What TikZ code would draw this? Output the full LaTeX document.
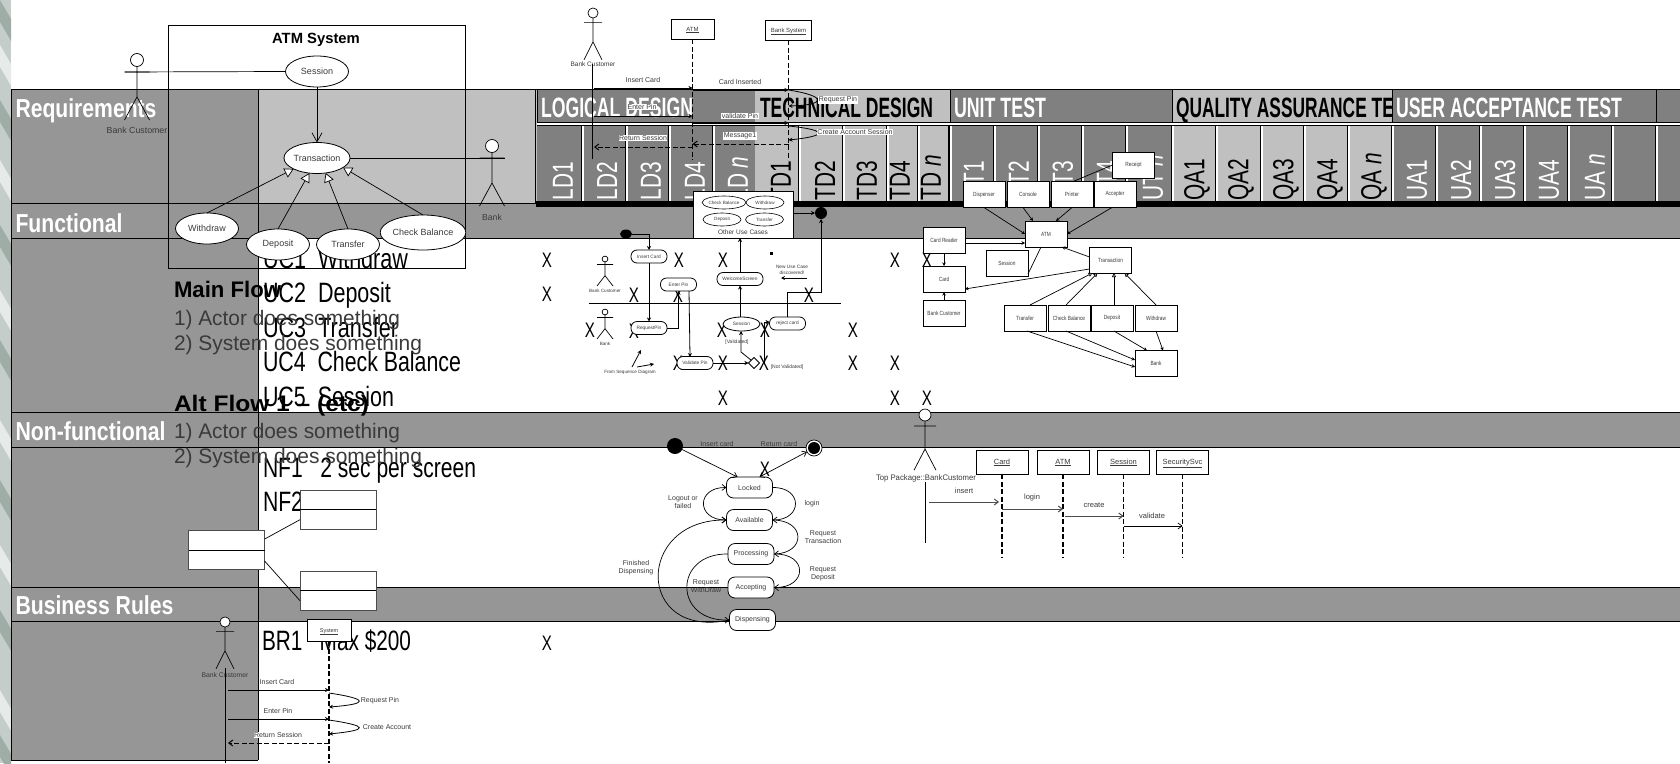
\documentclass[tikz,border=0pt]{standalone}
\usepackage{fontspec}
\usepackage{graphicx}
\setmainfont{Liberation Sans}
\newfontfamily\nar[FakeStretch=0.72]{Liberation Sans}
\newfontfamily\narb[FakeStretch=0.8]{Liberation Sans}
\usetikzlibrary{arrows.meta,shapes.geometric}
\definecolor{bandgrey}{HTML}{969696}
\definecolor{darkgrey}{HTML}{808080}
\definecolor{lightgrey}{HTML}{C0C0C0}
\definecolor{txtgrey}{HTML}{3A3A3A}
\definecolor{stripbase}{HTML}{C4CDC9}
\definecolor{stripdark}{HTML}{9FADA7}
\definecolor{striplight}{HTML}{E6EAE8}
\newcommand{\fitw}[2]{\resizebox{#1}{\height}{#2}}
\tikzset{
 x=1pt,y=-1pt,
 every node/.style={inner sep=0pt,outer sep=0pt,font=\fontsize{7}{8}\selectfont,text=txtgrey},
 ln/.style={draw=black,line width=0.7pt},
 hdr/.style={anchor=base west,text=white,font=\bfseries\fontsize{26}{26}\selectfont},
 big/.style={anchor=base west,text=black,font=\fontsize{28}{28}\selectfont},
 flow/.style={anchor=base west,text=txtgrey,font=\fontsize{21}{21}\selectfont},
 flowb/.style={anchor=base west,text=black,font=\bfseries\fontsize{22.5}{22.5}\selectfont},
 cross/.style={anchor=center,text=black,font=\nar\fontsize{21}{21}\selectfont},
 vt/.style={rotate=90,anchor=west,font=\nar\fontsize{29}{29}\selectfont},
 phase/.style={anchor=base west,font=\bfseries\fontsize{28}{28}\selectfont},
 uc/.style={ellipse,draw=black,fill=white,line width=0.8pt,minimum width=63pt,minimum height=31pt,font=\fontsize{9}{10}\selectfont},
 ucs/.style={ellipse,draw=black,fill=white,line width=0.6pt,minimum width=40pt,minimum height=13pt,font=\fontsize{4.6}{5}\selectfont},
 act/.style={rounded corners=6pt,draw=black,fill=white,line width=0.8pt,minimum width=36pt,minimum height=13pt,font=\fontsize{4.8}{5}\selectfont},
 st/.style={rounded corners=7pt,draw=black,fill=white,line width=0.8pt,minimum width=46pt,minimum height=21pt,font=\fontsize{7}{8}\selectfont},
 cls/.style={draw=black,fill=white,line width=0.9pt,minimum width=42pt,minimum height=26pt,font=\narb\fontsize{6}{7}\selectfont},
 obj/.style={draw=black,fill=white,line width=0.9pt,text height=5.5pt,text depth=1.5pt},
 lbl/.style={font=\fontsize{7}{8}\selectfont},
 sml/.style={font=\fontsize{7}{8}\selectfont},
 tiny/.style={font=\fontsize{4.6}{5}\selectfont},
 wlbl/.style={fill=white,inner sep=0.5pt,font=\fontsize{7}{8}\selectfont},
 ar/.style={draw=black,line width=0.7pt,-{Straight Barb[length=4pt,width=6pt]}},
 gen/.style={draw=black,line width=0.7pt,-{Triangle[open,fill=white,length=9pt,width=10pt]}},
 life/.style={draw=black,line width=1.2pt,dash pattern=on 5pt off 2.5pt},
 fl/.style={draw=black,line width=0.8pt,-{Stealth[length=4pt,width=4pt]}},
 dfl/.style={draw=black,line width=1pt,dash pattern=on 5pt off 2.5pt,-{Straight Barb[length=4pt,width=6pt]}},
 ebox/.style={draw=black!70,fill=white,line width=0.7pt,minimum width=76pt,minimum height=39pt},
 cl/.style={draw=black,line width=0.7pt,-{Stealth[length=3.5pt,width=3.5pt]}},
 cg/.style={draw=black,line width=0.7pt,-{Triangle[open,fill=white,length=4pt,width=4pt]}},
}
% actor: name, head-x, head-y, y-scale, x half-width
\newcommand{\actor}[5]{%
 \begin{scope}[shift={(#2,#3)},line width=0.7pt]
  \node[circle,draw=black,fill=white,minimum size=#4*13pt] (#1h) at (0,0) {};
  \coordinate (#1n) at (0,#4*6.5);\coordinate (#1b) at (0,#4*37);
  \coordinate (#1l) at (-#5,#4*12);\coordinate (#1r) at (#5,#4*12);
  \coordinate (#1fl) at (-#5,#4*60);\coordinate (#1fr) at (#5,#4*60);
  \draw (#1n)--(#1b) (#1l)--(#1r) (#1fl)--(#1b)--(#1fr);
 \end{scope}}
\begin{document}
\begin{tikzpicture}
\useasboundingbox (0,0) rectangle (1680,763);
\fill[white] (0,0) rectangle (1680,763);
% textured left strip
\begin{scope}
\clip (0,0) rectangle (11,763);
\fill[stripbase] (0,0) rectangle (11,763);
\foreach \y/\c in {0/stripdark,45/striplight,100/stripdark,160/striplight,225/stripdark,290/striplight,340/stripdark,420/striplight,480/stripdark,545/striplight,610/stripdark,690/striplight,735/stripdark}{
  \fill[\c] (0,\y) -- (14,\y+24) -- (14,\y+46) -- (0,\y+22) -- cycle;}
\end{scope}
% left column and rows
\fill[bandgrey] (11,89) rectangle (258,760);
\fill[bandgrey] (258,203) rectangle (1680,238);
\fill[bandgrey] (258,412) rectangle (1680,447);
\fill[bandgrey] (258,587) rectangle (1680,621);
\fill[lightgrey] (258,89) rectangle (1680,203);
\foreach \y in {89,203,238,412,447,587,621}{\draw[ln] (11,\y)--(1680,\y);}
\draw[ln] (11,89)--(11,760)--(258,760);
\draw[ln] (258,89)--(258,760);
% phase header bands
\foreach \a/\b/\c in {537/755/darkgrey,755/950/lightgrey,950/1172/darkgrey,1172/1392/lightgrey,1392/1656/darkgrey,1656/1680/darkgrey}{
  \fill[\c] (\a,89) rectangle (\b,122.5);
  \fill[\c] (\a,125.5) rectangle (\b,201);}
\draw[white,line width=2pt] (537,124)--(1680,124);
\draw[ln] (537,89)--(1680,89) (537,122.5)--(1680,122.5) (537,125.5)--(1680,125.5);
\foreach \x in {537,950,1172,1392,1656}{\draw[black,line width=1pt] (\x,89)--(\x,122.5);}
\foreach \x in {582,626,669,713,799,843,887,918,949,950,994,1038,1082,1126,1172,1216,1261,1304,1348,1392,1436,1480,1524,1568,1612,1656}{
  \draw[white,line width=1.6pt] (\x+0.8,125.5)--(\x+0.8,201);
  \draw[black,line width=0.9pt] (\x-0.7,125.5)--(\x-0.7,201);}
\draw[black,line width=1.1pt] (535.5,89)--(535.5,203);
% row titles
\node[hdr] at (15.5,117) {\fitw{141pt}{Requirements}};
\node[hdr] at (15.5,232) {\fitw{107pt}{Functional}};
\node[hdr] at (15.5,440) {\fitw{150pt}{Non-functional}};
\node[hdr] at (15.5,614) {\fitw{158pt}{Business Rules}};
% phase titles
\node[phase,text=white] at (541,117) {\fitw{152pt}{LOGICAL DESIGN}};
\node[phase,text=black] at (760,117) {\fitw{173pt}{TECHNICAL DESIGN}};
\node[phase,text=white] at (954,117) {\fitw{92pt}{UNIT TEST}};
\begin{scope}
 \clip (1172,89) rectangle (1392,122);
 \node[phase,text=black] at (1176,117) {\fitw{240pt}{QUALITY ASSURANCE TEST}};
\end{scope}
\node[phase,text=white] at (1396,117) {\fitw{226pt}{USER ACCEPTANCE TEST}};
% vertical column labels
\foreach \x/\t/\c in {563/LD1/white,607/LD2/white,651/LD3/white,695/LD4/white,738/{LD \emph{n}}/white,
  781/TD1/black,825/TD2/black,867/TD3/black,900/TD4/black,931/{TD \emph{n}}/black,
  974/UT1/white,1019/UT2/white,1063/UT3/white,1107/UT4/white,1153/{UT \emph{n}}/white,
  1197/QA1/black,1241/QA2/black,1286/QA3/black,1330/QA4/black,1374/{QA \emph{n}}/black,
  1417/UA1/white,1461/UA2/white,1505/UA3/white,1549/UA4/white,1595/{UA \emph{n}}/white}{
  \node[vt,text=\c] at (\x,200.5) {\t};}
\fill[black] (536,201) rectangle (1680,207);
% requirement texts
\node[big] at (263,268) {\fitw{145pt}{UC1\ \ Withdraw}};
\node[big] at (263,302) {\fitw{128pt}{UC2\ \ Deposit}};
\node[big] at (263,337) {\fitw{135pt}{UC3\ \ Transfer}};
\node[big] at (263,371) {\fitw{198pt}{UC4\ \ Check Balance}};
\node[big] at (263,406) {\fitw{131pt}{UC5\ \ Session}};
\node[big] at (263,477) {\fitw{213pt}{NF1\ \ \ 2 sec per screen}};
\node[big] at (263,511) {\fitw{40pt}{NF2}};
\node[big] at (262,650) {\fitw{149pt}{BR1\ \ \ Max \$200}};
% crosses
\foreach \x/\y in {547/260,679/260,723/260,895/260,927/260,547/294,634/295,678/295,809/295,590/330,634/331,722/330,765/330,853/330,678/363,723/363,764/363,853/363,895/363,723/398,895/398,927/398,765/469,547/643}{\node[cross] at (\x,\y) {X};}
\fill[black] (769.5,252) rectangle (772.5,254.5);
% main flow text
\node[flowb] at (174,297) {\fitw{107pt}{Main Flow}};
\node[flow] at (174,325) {\fitw{226pt}{1) Actor does something}};
\node[flow] at (174,350) {\fitw{248pt}{2) System does something}};
\node[flowb] at (174,411) {\fitw{195pt}{Alt Flow 1 – (etc)}};
\node[flow] at (174,438) {\fitw{226pt}{1) Actor does something}};
\node[flow] at (174,463) {\fitw{248pt}{2) System does something}};
% ATM System use-case
\node[draw=black,line width=0.8pt,minimum width=297.5pt,minimum height=243pt] (sysB) at (316.8,146.5) {};
\node[anchor=base,font=\bfseries\fontsize{14.8}{15}\selectfont,text=black] at (316,43) {ATM System};
\actor{aa}{137}{60}{1}{12.5}
\node[anchor=base,font=\fontsize{8.8}{9}\selectfont] (aaT) at (137,133) {Bank Customer};
\actor{ab}{492}{146}{1}{12.5}
\node[anchor=center,font=\fontsize{8.6}{9}\selectfont] (abT) at (492,217) {Bank};
\node[uc] (uS) at (317,71.5) {Session};
\node[uc] (uT) at (317,158) {Transaction};
\node[uc] (uW) at (207,228.5) {Withdraw};
\node[uc] (uD) at (278,244.5) {Deposit};
\node[uc] (uX) at (348,244.5) {Transfer};
\node[uc,minimum width=71pt,minimum height=35pt] (uC) at (423,232.5) {Check Balance};
\draw[ln] (aal)--(uS.west);
\draw[ln] (uT.east)--(abr);
\draw[ar,-{Straight Barb[length=9pt,width=10pt]}] (uS)--(uT);
\draw[gen] (uW.north)--(uT.205);
\draw[gen] (uD.north)--(uT.243);
\draw[gen] (uX.north)--(uT.300);
\draw[gen] (uC.north)--(uT.340);
% empty class boxes
\node[ebox] (b0) at (226.5,550) {};
\node[ebox] (b1) at (338,509.5) {};
\node[ebox] (b2) at (338,590.5) {};
\draw[ln] (b0.west)--(b0.east);
\draw[ln] (b1.west)--(b1.east);
\draw[ln] (b2.west)--(b2.east);
\draw[ln] (b0.16)--(b1.195);
\draw[ln] (b0.344)--(b2.195);
% top sequence diagram
\foreach \y in {88,90,106,116,123,126,140,144,147}{\coordinate (Y\y) at (0,\y);}
\actor{ac}{593}{13}{0.78}{9}
\node[font=\fontsize{6.5}{7}\selectfont,anchor=center] (acT) at (593,64) {Bank Customer};
\coordinate (acB) at (592,158.5);
\coordinate (acx) at (594,0);
\draw[draw=black,line width=0.9pt] (acT.center-|acB)--(acB);
\node[obj,minimum width=43pt,minimum height=20pt,font=\fontsize{6}{7}\selectfont] (sA) at (692.5,29) {\underline{ATM}};
\node[obj,minimum width=46pt,minimum height=20pt,font=\fontsize{6}{7}\selectfont] (sB) at (788.5,30) {\underline{Bank System}};
\coordinate (sAe) at (692.5,160);\coordinate (sBe) at (788.5,160);
\draw[life] (sA.south)--(sAe);
\draw[life] (sB.south)--(sBe);
\draw[fl] (acx|-Y88)--(sA|-Y88);
\node[sml] at (643,80) {Insert Card};
\draw[fl] (sA|-Y90)--(sB|-Y90);
\node[sml] at (740,82) {Card Inserted};
\draw[fl] (sB|-Y90) .. controls (827,96) and (827,105) .. (sB|-Y106);
\node[wlbl] at (838,100) {Request Pin};
\draw[fl] (acx|-Y116)--(sA|-Y116);
\node[wlbl] at (642,107) {Enter Pin};
\draw[fl] (sA|-Y123)--(sB|-Y123);
\node[wlbl] at (740,116) {validate Pin};
\draw[fl] (sB|-Y126) .. controls (828,130) and (828,136) .. (sB|-Y140);
\node[wlbl] at (855,132) {Create Account Session};
\draw[dfl] (sB|-Y144)--(sA|-Y144);
\node[wlbl] at (740,136) {Message1};
\draw[dfl] (sA|-Y147)--(acx|-Y147);
\node[wlbl] at (643,138) {Return Session};
% other use cases
\node[draw=black,fill=white,line width=0.8pt,minimum width=100pt,minimum height=47pt] (oU) at (743,214.5) {};
\node[ucs] (o1) at (724,202.5) {Check Balance};
\node[ucs,minimum width=38pt] (o2) at (765,202.5) {Withdraw};
\node[ucs,minimum width=38pt] (o3) at (722,219.5) {Deposit};
\node[ucs,minimum width=38pt] (o4) at (764.5,219.5) {Transfer};
\node[font=\fontsize{6.5}{7}\selectfont] (oT) at (743,232) {Other Use Cases};
% activity diagram
\node[circle,fill=black,minimum size=12pt] (finA) at (821,213) {};
\draw[fl] (oU.east|-finA)--(finA);
\node[ellipse,fill=black,minimum width=12pt,minimum height=9pt] (stA) at (626,234) {};
\node[act] (aI) at (649,256.5) {Insert Card};
\node[act] (aE) at (678.5,284.5) {Enter Pin};
\node[act] (aR) at (649,328) {RequestPin};
\node[act] (aV) at (695,363) {Validate Pin};
\node[act,minimum width=46pt] (aW) at (740,279) {WelcomeScreen};
\node[ellipse,draw=black,fill=white,line width=0.8pt,minimum width=37pt,minimum height=14pt,font=\fontsize{4.8}{5}\selectfont] (aS) at (741.5,324) {Session};
\node[act] (aJ) at (787.5,323.5) {reject card};
\node[diamond,draw=black,fill=white,line width=0.8pt,minimum size=11pt] (aD) at (754,363) {};
\coordinate (sw0) at (589,303);\coordinate (sw1) at (841,303);
\draw[draw=black,line width=0.8pt] (sw0)--(sw1);
\actor{ad}{605}{259}{0.45}{8}
\actor{ae}{605}{312}{0.45}{8}
\node[tiny] at (605,291) {Bank Customer};
\node[tiny] at (605,344) {Bank};
\node[tiny] at (630,372) {From Sequence Diagram};
\coordinate (fs0) at (632,367);\coordinate (fs1) at (641,350);\coordinate (fs2) at (637,367);\coordinate (fs3) at (654,364);
\draw[fl] (fs0)--(fs1);\draw[fl] (fs2)--(fs3);
\coordinate (aEd) at (689,291);
\coordinate (aVu) at (690,357);
\draw[fl] (stA) -| (aI.north);
\draw[fl] (aI)--(aR);
\draw[fl] (aR.east) -| (aE.south);
\draw[fl] (aEd)--(aVu);
\draw[fl] (aV)--(aD);
\coordinate (dn1) at (741,352);
\draw[fl] (aD.north west) -- (dn1) -- (aS.south-|dn1);
\coordinate (dn2) at (764,363);\coordinate (dn3) at (764,322);
\draw[fl] (dn2)--(dn3)--(aJ.west|-dn3);
\draw[fl] (aS.north-|aW)--(aW.south);
\draw[fl] (aW.north)--(aW.north|-oU.south);
\coordinate (dn4) at (787,292);\coordinate (dn5) at (821,292);
\draw[fl] (aJ.north-|dn4)--(dn4)--(dn5)--(finA.south);
\node[font=\fontsize{5}{6}\selectfont] at (737,342) {[Validated]};
\node[font=\fontsize{5}{6}\selectfont] at (787,367) {[Not Validated]};
\node[align=center,font=\fontsize{4.8}{5.5}\selectfont] at (792,270) {New Use Case\\discovered!};
\coordinate (nu0) at (807,278);\coordinate (nu1) at (781,278);
\draw[fl] (nu0)--(nu1);
% class diagram
\node[cls] (cRe) at (1133.5,165) {Receipt};
\draw[ln] (cRe.west)--(1072,182);
\node[cls] (cDi) at (984,194.5) {Dispenser};
\node[cls] (cCo) at (1028,194.5) {Console};
\node[cls] (cPr) at (1072,194.5) {Printer};
\node[cls] (cAc) at (1115,194.5) {Accepter};
\node[cls] (cAT) at (1046,234) {ATM};
\node[cls] (cRd) at (944,240) {Card Reader};
\node[cls] (cCa) at (944,279) {Card};
\node[cls] (cCu) at (944,313) {Bank Customer};
\node[cls] (cSe) at (1007,263) {Session};
\node[cls] (cTr) at (1110.5,260) {Transaction};
\node[cls] (cTf) at (1025,318) {Transfer};
\node[cls] (cCh) at (1069,318) {Check Balance};
\node[cls] (cDe) at (1112,318) {Deposit};
\node[cls] (cWi) at (1156,318) {Withdraw};
\node[cls] (cBa) at (1156,363.5) {Bank};
\draw[cl] (cDi.south)--(cAT.west);
\draw[cl] ([xshift=-5pt]cCo.south)--([xshift=-13pt]cAT.north);
\draw[cl] (cPr.south)--([xshift=10pt]cAT.north);
\draw[cl] ([xshift=-3pt]cAc.south)--(cAT.east);
\draw[cl,line width=1pt] ([yshift=-3pt]cRd.east)--([yshift=-9pt]cAT.west);
\draw[cl] (cRd.south)--(cCa.north);
\draw[cl] (cCu.north)--(cCa.south);
\draw[ln] ([xshift=-5pt]cAT.south)--([yshift=-11pt]cSe.east);
\draw[cl] ([yshift=3pt]cTr.west)--([xshift=16pt]cAT.south);
\draw[cl] ([yshift=-9pt]cTr.west)--([yshift=-10pt]cCa.east);
\draw[cg] ([xshift=5pt]cTf.north)--([xshift=-18pt]cTr.south);
\draw[cg] ([xshift=-3pt]cCh.north)--([xshift=-13pt]cTr.south);
\draw[cg] ([xshift=2pt]cDe.north)--([xshift=3.5pt]cTr.south);
\draw[cg] (cWi.north)--([xshift=14pt]cTr.south);
\draw[cl] ([xshift=2pt]cTf.south)--([yshift=-3.5pt]cBa.west);
\draw[cl] ([xshift=-3pt]cCh.south)--([yshift=3.5pt]cBa.west);
\draw[cl] ([xshift=2pt]cDe.south)--([xshift=-9pt]cBa.north);
\draw[cl] (cWi.south)--([xshift=7pt]cBa.north);
% state machine
\node[circle,fill=black,minimum size=16pt] (s0) at (675,446) {};
\node[circle,draw=black,line width=0.7pt,fill=white,minimum size=16pt] (s9) at (814,448) {};
\node[circle,fill=black,minimum size=12pt] (s9i) at (814,448) {};
\node[st] (sLo) at (749.5,487.5) {Locked};
\node[st] (sAv) at (749.5,520) {Available};
\node[st] (sPr) at (751,554) {Processing};
\node[st] (sAc) at (751,587.5) {Accepting};
\node[st] (sDi) at (752.5,620) {Dispensing};
\draw[ar] (s0)--([xshift=-12pt]sLo.north);
\draw[ar,{Straight Barb[length=4pt,width=6pt]}-{Straight Barb[length=4pt,width=6pt]}] ([xshift=10pt]sLo.north)--(s9);
\draw[ar] (sLo.east) .. controls (803,487) and (803,520) .. (sAv.east);
\draw[ar] (sAv.east) .. controls (806,520) and (806,553) .. (sPr.east);
\draw[ar] (sPr.east) .. controls (808,553) and (808,588) .. (sAc.east);
\draw[ar,{Straight Barb[length=4pt,width=6pt]}-{Straight Barb[length=4pt,width=6pt]}] (sLo.west) .. controls (696,487) and (696,520) .. (sAv.west);
\draw[ar] (sDi.west) .. controls (635,640) and (635,519) .. (sAv.west);
\draw[ar] (sPr.west) .. controls (673,553) and (673,622) .. (sDi.west);
\node[lbl] at (717,444) {Insert card};
\node[lbl] at (779,444) {Return card};
\node[lbl,align=center] at (683,502) {Logout or\\failed};
\node[lbl] at (812,504) {login};
\node[lbl,align=center] at (823,537) {Request\\Transaction};
\node[lbl,align=center] at (823,574) {Request\\Deposit};
\node[lbl,align=center] at (636,568) {Finished\\Dispensing};
\node[lbl,align=center] at (706,586) {Request\\WithDraw};
% lower-right sequence
\actor{af}{925}{415}{0.92}{11}
\node[font=\fontsize{8}{9}\selectfont] (afT) at (926,478) {\fitw{100pt}{Top Package::BankCustomer}};
\coordinate (afE) at (925,543);
\draw[ln] (925,482)--(afE);
\coordinate (afx) at (929,0);
\foreach \y in {502,509,516,526}{\coordinate (Z\y) at (0,\y);}
\foreach \n/\x/\t in {qC/1002/Card,qA/1063/ATM,qS/1123.5/Session,qV/1182.5/SecuritySvc}{
  \node[obj,minimum width=52pt,minimum height=24pt,font=\fontsize{7.5}{8}\selectfont] (\n) at (\x,462) {\underline{\t}};
  \coordinate (\n e) at (\x,558);
  \draw[life] (\n.south)--(\n e);}
\draw[ar,draw=black!70,line width=1pt] (afx|-Z502)--([xshift=-3pt]qC|-Z502);
\draw[ar,draw=black!70,line width=1pt] (qC|-Z509)--(qA|-Z509);
\draw[ar,draw=black!70,line width=1pt] ([xshift=2pt]qA|-Z516)--(qS|-Z516);
\draw[ar] (qS|-Z526)--(qV|-Z526);
\node[font=\fontsize{7.5}{8}\selectfont] at (964,491) {insert};
\node[font=\fontsize{7.5}{8}\selectfont] at (1032,498) {login};
\node[font=\fontsize{7.5}{8}\selectfont] at (1094,505) {create};
\node[font=\fontsize{7.5}{8}\selectfont] at (1152,516) {validate};
% lower-left sequence
\actor{ag}{225}{622}{0.78}{9}
\node[font=\fontsize{6.8}{7}\selectfont] (agT) at (225,675) {Bank Customer};
\coordinate (agE) at (225,763);
\draw[draw=black,line width=0.9pt] (225,668)--(agE);
\node[obj,minimum width=44pt,minimum height=22pt,font=\fontsize{5.5}{6}\selectfont] (tS) at (329,630) {\underline{System}};
\coordinate (tSe) at (329,763);
\draw[life] (tS.south)--(tSe);
\coordinate (agx) at (228,0);
\foreach \y in {690,693,707,719,720,734,743}{\coordinate (W\y) at (0,\y);}
\draw[fl] (agx|-W690)--(tS|-W690);
\node[sml] at (277,682) {Insert Card};
\draw[fl] (tS|-W693) .. controls (369,699) and (369,704) .. (tS|-W707);
\node[sml] at (380,701) {Request Pin};
\draw[fl] (agx|-W719)--(tS|-W719);
\node[sml] at (278,711) {Enter Pin};
\draw[fl] (tS|-W720) .. controls (369,726) and (369,730) .. (tS|-W734);
\node[sml] at (387,727) {Create Account};
\draw[dfl] (tS|-W743)--(agx|-W743);
\node[wlbl] at (278,735) {Return Session};
\end{tikzpicture}
\end{document}
